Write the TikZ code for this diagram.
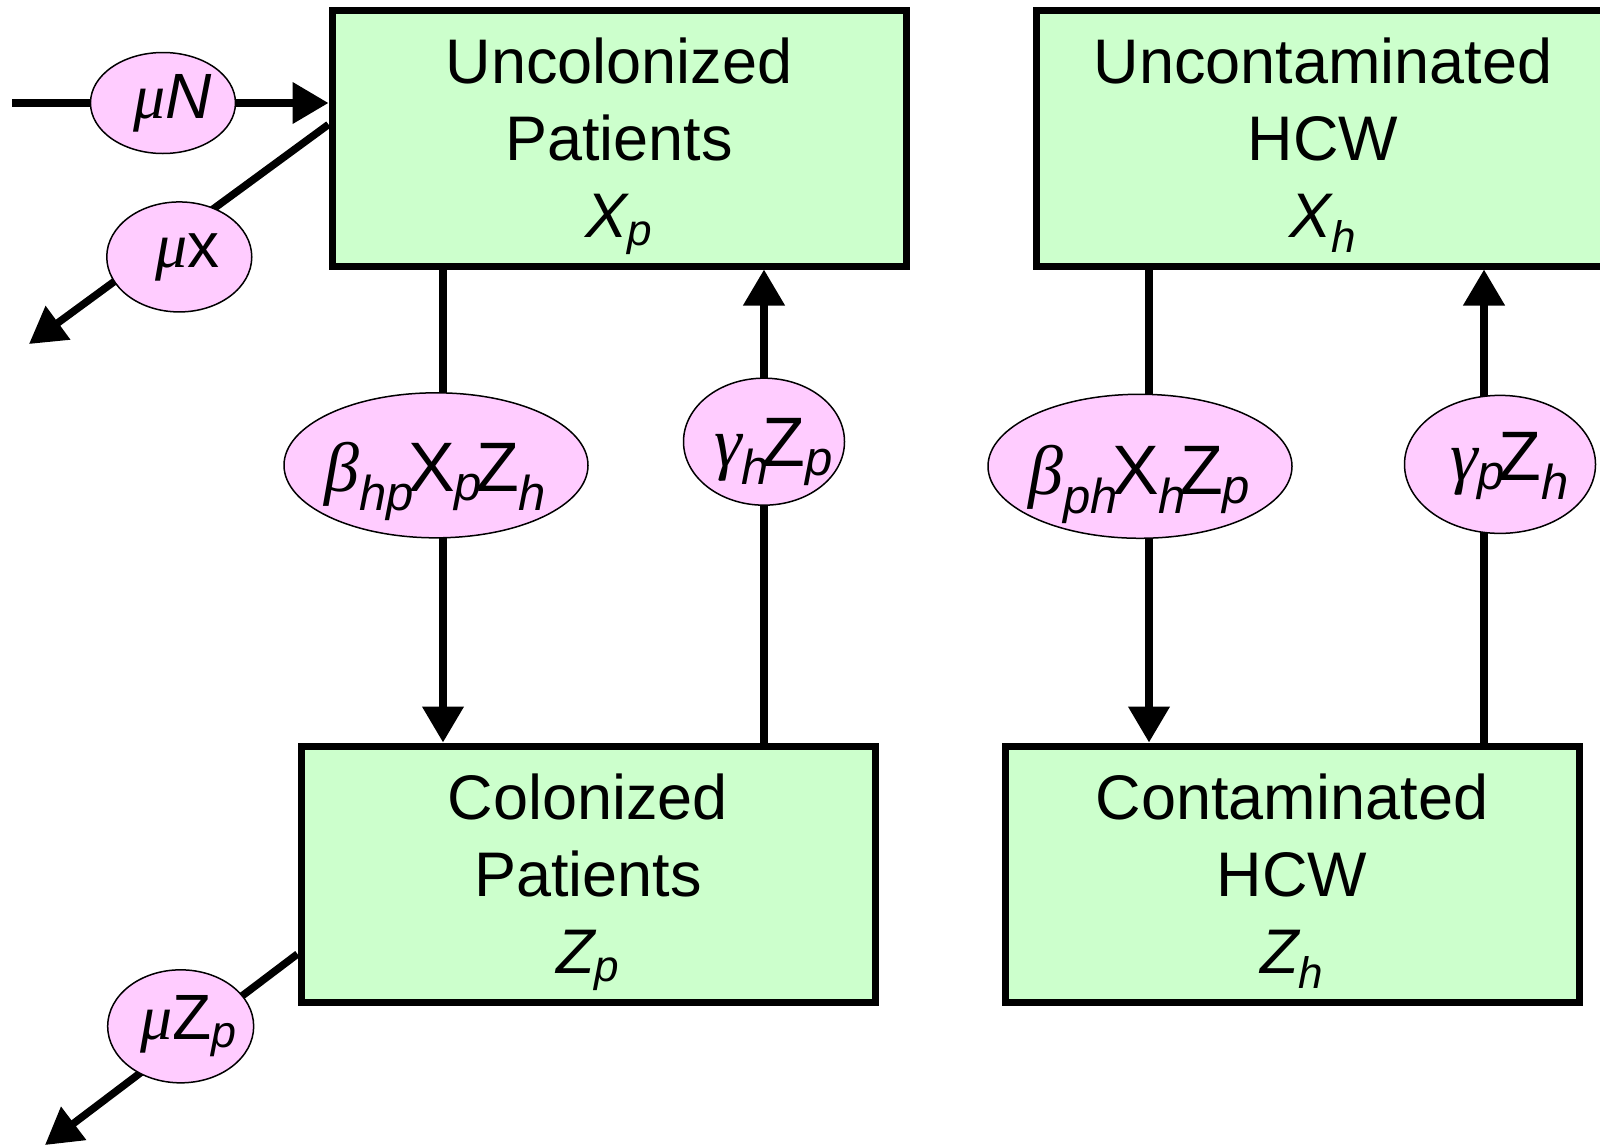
\documentclass[tikz,border=0pt]{standalone}
\usepackage{fontspec}
\setmainfont{Liberation Sans}
\newfontfamily\grkfont{Liberation Serif}
\usetikzlibrary{shapes.geometric,arrows.meta,positioning}

\definecolor{boxgreen}{HTML}{CCFFCC}
\definecolor{ratepink}{HTML}{FFCCFF}

\newcommand{\gk}[1]{{\grkfont\itshape #1}}
\newcommand{\sbs}[1]{\textsubscript{\itshape #1}}
\newcommand{\tsb}[1]{\textsubscript{\itshape #1}\kern-0.1em}
\newcommand{\bigrate}{\fontsize{35}{35}\selectfont}

\begin{document}
\begin{tikzpicture}[x=0.5pt,y=-0.5pt,node distance=352pt,on grid,
        compartment/.style={draw,line width=3.5pt,fill=boxgreen,minimum width=287pt,minimum height=128pt,
            inner sep=0pt,align=center,text depth=0pt,font=\fontsize{31.5}{38.5}\selectfont},
        rate/.style={ellipse,draw,line width=0.75pt,fill=ratepink,inner sep=0pt},
        flow/.style={line width=3.75pt,-{Triangle[width=20pt,length=18pt]}},
        every label/.style={font=\fontsize{32}{32}\selectfont,inner sep=0pt}]
            \useasboundingbox (0,0) rectangle (1600,1146);
            \node[compartment] (Xp) at (619,138) {Uncolonized\\Patients\\\textit{X\sbs{p}}};
            \node[compartment] (Xh) [right=of Xp] {Uncontaminated\\HCW\\\textit{X\sbs{h}}};
            \node[compartment] (Zp) at (588,874) {Colonized\\Patients\\\textit{Z\sbs{p}}};
            \node[compartment] (Zh) [right=of Zp] {Contaminated\\HCW\\\textit{Z\sbs{h}}};
            \coordinate (in) at (12,103);
            \coordinate (outx) at (29,344);
            \coordinate (outz) at (45,1145);
            % births and deaths
            \draw[flow] (in) -- node[rate,minimum width=72.5pt,minimum height=50.5pt,pos=0.477,
                label={[xshift=5pt]center:\gk{μ}\textit{N}}] (muN) {} (in -| Xp.west);
            \draw[flow] ([yshift=6.75pt]Xp.west) -- node[rate,minimum width=72.5pt,minimum height=55pt,pos=0.535,
                xshift=5.5pt,yshift=-7.5pt,label={[xshift=4pt]center:\gk{μ}x}] (mux) {} (outx);
            \draw[flow] ([yshift=-40pt]Zp.west) -- node[rate,minimum width=73pt,minimum height=56.5pt,pos=0.431,
                xshift=-4pt,yshift=5pt,label={[xshift=4pt]center:\gk{μ}Z\sbs{p}}] (muZp) {} (outz);
            % patients
            \draw[flow] ([xshift=-88pt]Xp.south) -- node[rate,minimum width=152pt,minimum height=72.5pt,pos=0.414,
                xshift=-3.5pt,label={[yshift=-8pt]center:\bigrate\gk{β}\tsb{hp}X\tsb{p}Z\sbs{h}}] (bhp) {}
                ([xshift=-88pt]Xp.south |- Zp.north);
            \draw[flow] ([xshift=88pt]Zp.north) -- node[rate,minimum width=80.5pt,minimum height=63.5pt,pos=0.636,
                label={[xshift=5pt,yshift=-5pt]center:\bigrate\gk{γ}\tsb{h}Z\sbs{p}}] (ghZp) {}
                ([xshift=88pt]Zp.north |- Xp.south);
            % health care workers
            \draw[flow] ([xshift=-87pt]Xh.south) -- node[rate,minimum width=152pt,minimum height=72pt,pos=0.416,
                xshift=-4.5pt,label={[yshift=-9pt]center:\bigrate\gk{β}\tsb{ph}X\tsb{h}Z\sbs{p}}] (bph) {}
                ([xshift=-87pt]Xh.south |- Zh.north);
            \draw[flow] ([xshift=96pt]Zh.north) -- node[rate,minimum width=95.5pt,minimum height=69pt,pos=0.588,
                xshift=8pt,label={[xshift=5pt,yshift=-1pt]center:\bigrate\gk{γ}\tsb{p}Z\sbs{h}}] (gpZh) {}
                ([xshift=96pt]Zh.north |- Xh.south);
        \end{tikzpicture}
\end{document}
